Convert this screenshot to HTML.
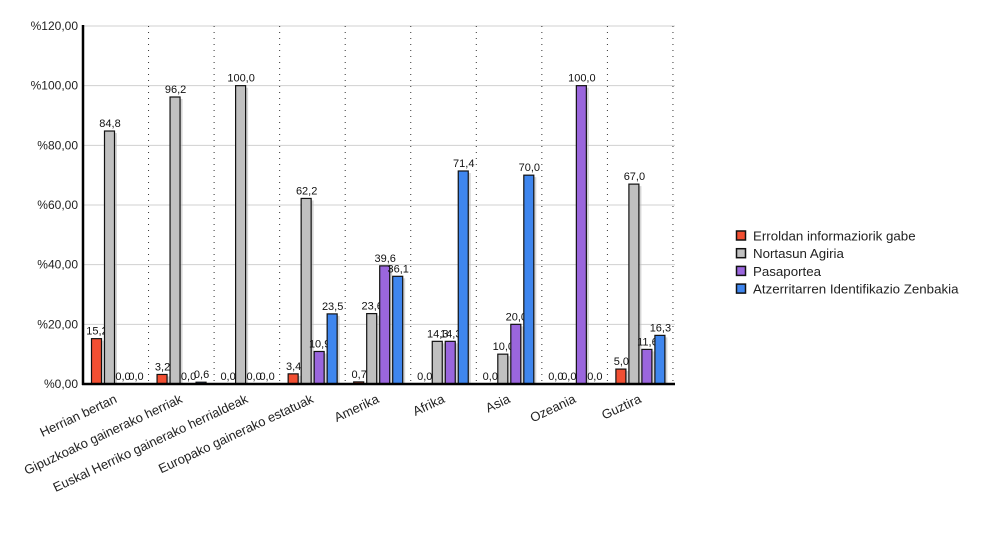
<!DOCTYPE html>
<html><head><meta charset="utf-8"><style>body{margin:0;background:#fff}svg{display:block;font-family:"Liberation Sans",sans-serif}</style></head>
<body><svg id="s" width="1000" height="550" xmlns="http://www.w3.org/2000/svg"></svg>
<script>
var s=document.getElementById('s'),h='';
function Y(v){return 384-v*358/120;}
for(var i=0;i<=6;i++){var y=Y(i*20);h+='<line x1="83" x2="675" y1="'+y+'" y2="'+y+'" stroke="#d0d0d0"/>';
h+='<text x="78" y="'+(y+4)+'" font-size="12" text-anchor="end" fill="#222">%'+(i*20)+',00</text>';}
var W=65.55;
for(var g=1;g<=9;g++){var x=83+g*W;h+='<line x1="'+x+'" x2="'+x+'" y1="26" y2="384" stroke="#333" stroke-dasharray="1,5"/>';}
var cats=["Herrian bertan","Gipuzkoako gainerako herriak","Euskal Herriko gainerako herrialdeak","Europako gainerako estatuak","Amerika","Afrika","Asia","Ozeania","Guztira"];
var d=[[15.2,84.8,0,0],[3.2,96.2,0,0.6],[0,100,0,0],[3.4,62.2,10.9,23.5],[0.7,23.6,39.6,36.1],[0,14.3,14.3,71.4],[0,10,20,70],[0,0,100,0],[5,67,11.6,16.3]];
var col=["#f24f32","#c0c0c0","#9a66dd","#3f86ee"];
for(var g=0;g<9;g++){var gx=83+g*W;for(var k=0;k<4;k++){var v=d[g][k],x=gx+8+k*13,y=Y(v);
if(v>0){h+='<rect x="'+(x+2)+'" y="'+(y+2)+'" width="11" height="'+(384-y-2)+'" fill="#bbb" opacity="0.6"/>';
h+='<rect x="'+(x+.5)+'" y="'+y+'" width="10" height="'+(384-y)+'" fill="'+col[k]+'" stroke="#111" stroke-width="1.2"/>';}
h+='<text x="'+(x+6)+'" y="'+(y-4)+'" font-size="11" text-anchor="middle" fill="#111">'+v.toFixed(1).replace('.',',')+'</text>';}
var cx=gx+W/2+2;h+='<text transform="translate('+cx+',402) rotate(-25)" font-size="13" text-anchor="end" fill="#222">'+cats[g]+'</text>';}
h+='<line x1="83" x2="83" y1="25" y2="385" stroke="#000" stroke-width="2.5"/><line x1="82" x2="675" y1="384" y2="384" stroke="#000" stroke-width="2.5"/>';
var L=["Erroldan informaziorik gabe","Nortasun Agiria","Pasaportea","Atzerritarren Identifikazio Zenbakia"];
for(var k=0;k<4;k++){var y=231+k*17.7;h+='<rect x="736.5" y="'+y+'" width="9" height="9" fill="'+col[k]+'" stroke="#111" stroke-width="1.5"/><text x="753" y="'+(y+9.5)+'" font-size="13.3" fill="#222">'+L[k]+'</text>';}
s.innerHTML=h;
</script></body></html>
